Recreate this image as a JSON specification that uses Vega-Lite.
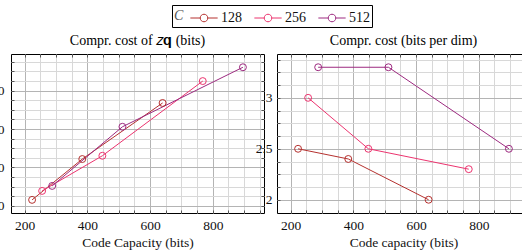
{
  "$schema": "https://vega.github.io/schema/vega-lite/v6.json",
  "padding": {"left": -17, "top": 4, "right": 0, "bottom": 0},
  "datasets": {
    "pts": [
      {"C": "128", "cap": 224, "cost": 115.7, "bpd": 2.5},
      {"C": "128", "cap": 384, "cost": 222, "bpd": 2.4},
      {"C": "128", "cap": 640, "cost": 368, "bpd": 2.0},
      {"C": "256", "cap": 256, "cost": 139, "bpd": 3.0},
      {"C": "256", "cap": 448, "cost": 230.5, "bpd": 2.5},
      {"C": "256", "cap": 768, "cost": 425, "bpd": 2.3},
      {"C": "512", "cap": 288, "cost": 152, "bpd": 3.3},
      {"C": "512", "cap": 512, "cost": 306, "bpd": 3.3},
      {"C": "512", "cap": 896, "cost": 461, "bpd": 2.5}
    ]
  },
  "config": {
    "font": "Liberation Serif",
    "view": {"stroke": "black", "strokeWidth": 1},
    "axis": {
      "labelFont": "Liberation Serif", "titleFont": "Liberation Serif",
      "labelFontSize": 13.5, "titleFontSize": 13.5, "titleFontWeight": "normal",
      "labelColor": "#111", "titleColor": "#111", "domain": false,
      "tickColor": "#555", "tickWidth": 1
    },
    "title": {"font": "Liberation Serif", "fontSize": 14, "fontWeight": "normal", "offset": 6, "color": "black"}
  },
  "bounds": "flush",
  "spacing": 13,
  "resolve": {"scale": {"color": "shared"}},
  "hconcat": [
    {
      "width": 253, "height": 159,
      "title": "Compr. cost of 𝑧𝐪 (bits)",
      "data": {"name": "pts"},
      "resolve": {"axis": {"x": "independent", "y": "independent"}},
      "layer": [
        {
          "mark": {"type": "line", "strokeWidth": 1},
          "encoding": {
            "x": {"field": "cap", "type": "quantitative",
              "scale": {"domain": [156.8, 963.2], "nice": false, "zero": false},
              "axis": {"title": "Code Capacity (bits)", "values": [200,250,300,350,400,450,500,550,600,650,700,750,800,850,900,950],
                "labelExpr": "datum.value % 200 === 0 ? datum.label : ''",
                "labelFont": "Liberation Serif", "titleFont": "Liberation Serif",
                "grid": true, "gridColor": {"condition": {"test": "datum.value % 200 === 0", "value": "#b4b4b4"}, "value": "#d8d8d8"},
                "tickSize": -3, "labelPadding": 8, "titlePadding": 4}},
            "y": {"field": "cost", "type": "quantitative",
              "scale": {"domain": [81.5, 495.5], "nice": false, "zero": false},
              "axis": {"title": null, "values": [100,125,150,175,200,225,250,275,300,325,350,375,400,425,450,475],
                "labelExpr": "datum.value % 100 === 0 ? datum.label : ''",
                "labelFont": "Liberation Serif",
                "grid": true, "gridColor": {"condition": {"test": "datum.value % 100 === 0", "value": "#b4b4b4"}, "value": "#d8d8d8"},
                "tickSize": -3, "labelPadding": 10}},
            "color": {"field": "C", "type": "nominal",
              "scale": {"domain": ["128", "256", "512"], "range": ["#b5312f", "#ec346f", "#9d2a80"]},
              "legend": {"orient": "none", "legendX": 161, "legendY": -49, "direction": "horizontal", "title": "C", "titleOrient": "left",
                "titleFontStyle": "italic", "titleFontWeight": "normal", "titleFontSize": 14, "titleFont": "Liberation Serif",
                "labelFont": "Liberation Serif", "labelFontSize": 14, "labelColor": "#111", "titleColor": "#555",
                "symbolType": "M-1.3,0L-0.36,0M0.36,0L1.3,0M-0.36,0A0.36,0.36,0,1,1,0.36,0A0.36,0.36,0,1,1,-0.36,0",
                "symbolSize": 441, "symbolStrokeWidth": 1, "symbolFillColor": "transparent",
                "strokeColor": "black", "padding": 2, "columnPadding": 10, "labelOffset": 6, "titlePadding": 9}}
          }
        },
        {
          "mark": {"type": "point", "filled": false, "size": 48, "strokeWidth": 1, "opacity": 1},
          "encoding": {
            "x": {"field": "cap", "type": "quantitative", "axis": null},
            "y": {"field": "cost", "type": "quantitative", "axis": null},
            "color": {"field": "C", "type": "nominal", "legend": null}
          }
        },
        {
          "mark": {"type": "point", "opacity": 0},
          "encoding": {
            "x": {"field": "cap", "type": "quantitative",
              "axis": {"orient": "top", "title": null, "labels": false, "grid": false, "tickSize": -3,
                "values": [200,250,300,350,400,450,500,550,600,650,700,750,800,850,900,950]}},
            "y": {"field": "cost", "type": "quantitative",
              "axis": {"orient": "right", "title": null, "labels": false, "grid": false, "tickSize": -3,
                "values": [100,125,150,175,200,225,250,275,300,325,350,375,400,425,450,475]}}
          }
        }
      ]
    },
    {
      "width": 253, "height": 159,
      "title": "Compr. cost (bits per dim)",
      "data": {"name": "pts"},
      "resolve": {"axis": {"x": "independent", "y": "independent"}},
      "layer": [
        {
          "mark": {"type": "line", "strokeWidth": 1},
          "encoding": {
            "x": {"field": "cap", "type": "quantitative",
              "scale": {"domain": [156.8, 963.2], "nice": false, "zero": false},
              "axis": {"title": "Code capacity (bits)", "values": [200,250,300,350,400,450,500,550,600,650,700,750,800,850,900,950],
                "labelExpr": "datum.value % 200 === 0 ? datum.label : ''",
                "labelFont": "Liberation Serif", "titleFont": "Liberation Serif",
                "grid": true, "gridColor": {"condition": {"test": "datum.value % 200 === 0", "value": "#b4b4b4"}, "value": "#d8d8d8"},
                "tickSize": -3, "labelPadding": 8, "titlePadding": 4}},
            "y": {"field": "bpd", "type": "quantitative",
              "scale": {"domain": [1.87, 3.43], "nice": false, "zero": false},
              "axis": {"title": null, "values": [2,2.125,2.25,2.375,2.5,2.625,2.75,2.875,3,3.125,3.25,3.375],
                "labelExpr": "datum.value % 0.5 === 0 ? format(datum.value, '~g') : ''",
                "labelFont": "Liberation Serif",
                "grid": true, "gridColor": {"condition": {"test": "datum.value % 0.5 === 0", "value": "#b4b4b4"}, "value": "#d8d8d8"},
                "tickSize": -3, "labelPadding": 8}},
            "color": {"field": "C", "type": "nominal"}
          }
        },
        {
          "mark": {"type": "point", "filled": false, "size": 48, "strokeWidth": 1, "opacity": 1},
          "encoding": {
            "x": {"field": "cap", "type": "quantitative", "axis": null},
            "y": {"field": "bpd", "type": "quantitative", "axis": null},
            "color": {"field": "C", "type": "nominal", "legend": null}
          }
        },
        {
          "mark": {"type": "point", "opacity": 0},
          "encoding": {
            "x": {"field": "cap", "type": "quantitative",
              "axis": {"orient": "top", "title": null, "labels": false, "grid": false, "tickSize": -3,
                "values": [200,250,300,350,400,450,500,550,600,650,700,750,800,850,900,950]}},
            "y": {"field": "bpd", "type": "quantitative",
              "axis": {"orient": "right", "title": null, "labels": false, "grid": false, "tickSize": -3,
                "values": [2,2.125,2.25,2.375,2.5,2.625,2.75,2.875,3,3.125,3.25,3.375]}}
          }
        }
      ]
    }
  ]
}
